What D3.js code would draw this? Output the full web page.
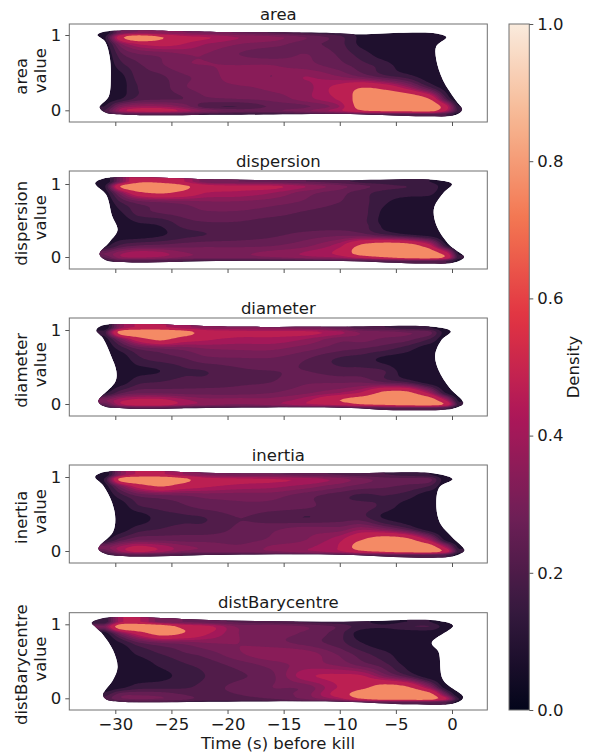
<!DOCTYPE html>
<html><head><meta charset="utf-8">
<style>html,body{margin:0;padding:0;background:#fff}svg{display:block}text{font-family:"DejaVu Sans",sans-serif;fill:#1a1a1a}</style>
<script src="https://cdn.jsdelivr.net/npm/d3@7/dist/d3.min.js"></script></head><body>
<svg id="c" width="594" height="756"></svg>
<script>
const panelNames=["area","dispersion","diameter","inertia","distBarycentre"];
const timeCols=[-31,-29.5,-28,-26,-24,-22,-19,-16,-13,-10,-8,-6,-4,-2,-0.5,0.6];
const valueRows=[1.03,.97,.88,.75,.6,.45,.3,.15,.05,-.01,-.05];
const xTicks=[-30,-25,-20,-15,-10,-5,0];
const yTicks=[0,1];
const cbTicks=[0,.2,.4,.6,.8,1];
const rocketStops=["#03051a","#35193e","#701f57","#ad1759","#e13342","#f37651","#f6b48f","#faebdd"];
const bandThresholds=[.12,.18,.23,.28,.33,.38,.44,.6];
const bandLevels=[.08,.155,.21,.26,.3,.345,.405,.47,.76];
const densityArea=[
[.05,.28,.33,.33,.33,.3,.27,.22,.17,.14,.1,.07,.07,.07,.05,.04],
[.1,.55,.75,.62,.48,.45,.38,.35,.28,.2,.1,.08,.07,.08,.06,.04],
[.07,.32,.44,.48,.44,.38,.33,.3,.25,.2,.1,.07,.07,.07,.05,.04],
[.05,.22,.28,.3,.33,.33,.28,.25,.28,.22,.15,.08,.07,.07,.05,.04],
[.05,.16,.22,.27,.32,.33,.33,.33,.3,.25,.2,.15,.07,.06,.05,.04],
[.05,.1,.2,.22,.27,.3,.36,.33,.38,.33,.27,.2,.15,.07,.05,.04],
[.05,.09,.18,.2,.27,.3,.32,.34,.36,.48,.6,.55,.4,.2,.08,.04],
[.06,.12,.2,.22,.23,.27,.28,.3,.36,.46,.7,.78,.78,.6,.2,.05],
[.12,.32,.38,.38,.32,.2,.18,.24,.27,.38,.7,.78,.78,.78,.48,.12],
[.18,.4,.48,.5,.42,.32,.26,.27,.32,.42,.57,.62,.64,.66,.42,.15],
[.15,.2,.2,.2,.2,.17,.15,.15,.17,.2,.22,.22,.22,.22,.18,.08]];
const densityDispersion=[
[.05,.3,.55,.55,.45,.3,.28,.26,.23,.2,.16,.15,.13,.12,.05,.04],
[.1,.62,.78,.78,.65,.5,.46,.46,.38,.3,.25,.2,.18,.17,.07,.04],
[.07,.33,.55,.62,.55,.44,.42,.38,.3,.25,.2,.16,.15,.14,.06,.04],
[.05,.18,.25,.28,.3,.32,.32,.3,.27,.23,.2,.13,.08,.07,.05,.04],
[.05,.11,.2,.23,.25,.27,.27,.25,.22,.2,.2,.1,.06,.06,.05,.04],
[.04,.07,.11,.13,.2,.22,.22,.2,.2,.2,.2,.1,.06,.06,.05,.04],
[.05,.07,.08,.11,.16,.18,.2,.22,.25,.27,.26,.2,.14,.09,.05,.04],
[.1,.2,.24,.25,.26,.27,.27,.28,.32,.42,.65,.75,.72,.5,.14,.05],
[.28,.37,.42,.4,.34,.32,.32,.35,.39,.47,.7,.78,.78,.72,.5,.1],
[.22,.36,.38,.36,.32,.3,.3,.32,.35,.38,.47,.57,.66,.7,.55,.14],
[.15,.2,.2,.19,.18,.17,.17,.17,.18,.2,.2,.22,.22,.22,.18,.08]];
const densityDiameter=[
[.05,.35,.45,.45,.4,.35,.34,.32,.3,.25,.2,.18,.15,.12,.05,.04],
[.15,.7,.78,.8,.7,.52,.48,.47,.47,.4,.32,.3,.28,.25,.08,.04],
[.08,.32,.52,.65,.52,.46,.42,.42,.38,.3,.3,.27,.25,.18,.06,.04],
[.06,.15,.24,.28,.3,.33,.34,.34,.3,.25,.23,.2,.15,.07,.05,.04],
[.05,.07,.16,.2,.22,.26,.27,.27,.23,.17,.15,.1,.07,.05,.05,.04],
[.05,.07,.1,.12,.17,.18,.22,.23,.23,.2,.2,.18,.07,.06,.05,.04],
[.05,.08,.16,.18,.2,.2,.22,.23,.27,.27,.27,.22,.17,.07,.05,.04],
[.1,.22,.27,.27,.26,.26,.26,.28,.32,.38,.46,.65,.65,.4,.11,.05],
[.32,.42,.47,.47,.4,.35,.35,.35,.42,.6,.72,.78,.78,.72,.42,.1],
[.22,.42,.5,.5,.4,.35,.32,.35,.42,.47,.58,.62,.68,.7,.55,.14],
[.15,.2,.22,.21,.18,.17,.17,.17,.18,.2,.22,.22,.22,.22,.18,.08]];
const densityInertia=[
[.05,.33,.45,.45,.38,.32,.3,.28,.25,.22,.2,.18,.16,.12,.05,.04],
[.12,.68,.78,.8,.66,.5,.46,.45,.42,.36,.3,.26,.25,.25,.07,.04],
[.08,.32,.5,.62,.52,.46,.42,.4,.36,.3,.26,.24,.22,.18,.06,.04],
[.06,.16,.24,.27,.28,.3,.3,.3,.25,.2,.17,.18,.15,.07,.05,.04],
[.05,.08,.17,.2,.22,.25,.27,.26,.24,.2,.2,.16,.08,.05,.05,.04],
[.05,.07,.08,.15,.17,.18,.23,.2,.18,.2,.2,.11,.07,.06,.05,.04],
[.05,.08,.15,.18,.2,.2,.24,.27,.3,.3,.36,.3,.2,.07,.05,.04],
[.1,.21,.27,.27,.26,.26,.26,.29,.33,.42,.6,.72,.66,.4,.09,.05],
[.3,.4,.47,.42,.35,.32,.29,.34,.37,.45,.72,.78,.78,.72,.4,.1],
[.22,.38,.46,.4,.32,.3,.3,.32,.36,.42,.55,.62,.68,.7,.52,.14],
[.15,.2,.21,.2,.18,.17,.17,.17,.18,.2,.22,.22,.22,.22,.18,.08]];
const densityDist=[
[.12,.42,.45,.3,.28,.25,.22,.2,.17,.15,.13,.1,.12,.12,.05,.04],
[.3,.75,.8,.76,.55,.48,.32,.32,.28,.22,.15,.13,.17,.18,.08,.04],
[.08,.32,.5,.68,.6,.46,.33,.3,.27,.2,.08,.07,.07,.07,.05,.04],
[.05,.12,.22,.28,.3,.33,.33,.3,.26,.2,.12,.07,.07,.06,.05,.04],
[.05,.07,.13,.18,.22,.25,.32,.37,.36,.27,.2,.14,.07,.05,.05,.04],
[.05,.06,.08,.13,.17,.2,.25,.3,.35,.32,.26,.2,.1,.05,.05,.04],
[.05,.06,.08,.1,.14,.18,.22,.27,.42,.46,.45,.32,.2,.07,.05,.04],
[.05,.1,.15,.16,.17,.2,.25,.28,.3,.45,.55,.68,.62,.35,.07,.04],
[.15,.26,.27,.26,.23,.21,.23,.26,.31,.5,.72,.78,.78,.68,.28,.06],
[.2,.27,.29,.28,.25,.21,.21,.23,.29,.4,.6,.7,.72,.7,.46,.12],
[.13,.17,.18,.18,.16,.15,.15,.15,.17,.2,.22,.22,.22,.22,.18,.08]];
const densityGrids=[densityArea,densityDispersion,densityDiameter,densityInertia,densityDist];
const outlineArea=[[-31.6,1],[-31.1,1.04],[-29,1.06],[-20,1.04],[-11.2,1.03],[-8.2,1.01],[-4.3,1.03],[-1.4,1.02],[-.5,.97],[-1.4,.85],[-1.4,.67],[-.8,.4],[.3,.14],[.9,.01],[.4,-.06],[-2.3,-.08],[-5.2,-.07],[-9.7,-.05],[-20,-.06],[-29,-.06],[-30.9,-.03],[-31.4,.04],[-30.6,.18],[-30.4,.45],[-30.5,.71],[-30.9,.91]];
const outlineDispersion=[[-31.8,1.01],[-31.2,1.07],[-28.1,1.09],[-20.1,1.06],[-9.7,1.05],[-1.4,1.055],[0,1],[-.8,.87],[-1.6,.67],[-1.4,.44],[-.2,.16],[1.07,0],[.4,-.07],[-2.3,-.09],[-9.7,-.055],[-20,-.055],[-29.6,-.07],[-30.9,-.04],[-31.4,.04],[-30.5,.21],[-29.8,.37],[-30.3,.57],[-30.8,.85]];
const outlineDiameter=[[-31.7,1],[-31.2,1.06],[-28.1,1.08],[-20,1.045],[-10.3,1.045],[-1.4,1.04],[-.1,.98],[-.9,.87],[-1.5,.66],[-1.2,.46],[-.2,.215],[1,.015],[.4,-.05],[-4.6,-.085],[-9.7,-.05],[-20,-.05],[-29,-.06],[-31,-.03],[-31.5,.035],[-30,.3],[-29.9,.44],[-30.4,.66],[-31.1,.89]];
const outlineInertia=[[-31.8,1],[-31.2,1.06],[-28.1,1.08],[-20,1.05],[-9.7,1.05],[-1.4,1.045],[.06,.97],[-1.1,.865],[-1.4,.66],[-1.1,.39],[0,.19],[1.1,.01],[.4,-.06],[-2.6,-.09],[-9.7,-.05],[-20,-.05],[-29,-.07],[-30.9,-.036],[-31.5,.03],[-30.2,.26],[-30,.44],[-30.3,.66],[-31.1,.89]];
const outlineDist=[[-32.1,1.02],[-31.2,1.08],[-20,1.05],[-9.7,1.035],[-1.1,1.045],[.1,.98],[-1.8,.75],[-1.2,.63],[-.8,.25],[1,.015],[.4,-.06],[-3.7,-.08],[-9.7,-.045],[-20,-.045],[-29.6,-.045],[-30.8,-.015],[-31.1,.045],[-30.2,.25],[-29.8,.42],[-30.2,.65],[-31.1,.86],[-31.8,.97]];
const outlines=[outlineArea,outlineDispersion,outlineDiameter,outlineInertia,outlineDist];
const frames=[[24,122,35,110.3],[171,269,184,257],[318,416,330,404],[465,563,477,551],[612.7,710,624.3,698.3]];
const L=69.3,R=487.3;
const x=d3.scaleLinear().domain([-30,0]).range([115.3,452]);
const rocket=d3.scaleLinear().domain(rocketStops.map((d,i)=>i/7)).range(rocketStops).interpolate(d3.interpolateRgb);
const svg=d3.select("#c");
const defs=svg.append("defs");
const ix=d3.scaleLinear().domain(timeCols).range(timeCols.map((d,i)=>i)).clamp(true);
const iy=d3.scaleLinear().domain(valueRows.slice().reverse()).range(valueRows.map((d,i)=>valueRows.length-1-i)).clamp(true);
function cr(p0,p1,p2,p3,t){return .5*(2*p1+(p2-p0)*t+(2*p0-5*p1+4*p2-p3)*t*t+(3*p1-p0-3*p2+p3)*t*t*t);}
function sample(g,u,w){
  const ny=g.length,nx=g[0].length,c=(a,n)=>Math.max(0,Math.min(n-1,a));
  const i=Math.min(nx-2,Math.floor(u)),j=Math.min(ny-2,Math.floor(w)),tu=u-i,tw=w-j,rows=[];
  for(let k=-1;k<=2;k++){const r=g[c(j+k,ny)];rows.push(cr(r[c(i-1,nx)],r[i],r[i+1],r[c(i+2,nx)],tu));}
  return cr(rows[0],rows[1],rows[2],rows[3],tw);
}
const STEP=1.5;
const styleAxis=a=>{a.select(".domain").remove();a.selectAll("line").attr("stroke","#555");a.selectAll("text").attr("font-size",16.5).attr("font-family","DejaVu Sans").attr("fill","#1a1a1a");};
panelNames.forEach((name,p)=>{
  const [top,bot,y1,y0]=frames[p];
  const y=d3.scaleLinear().domain([0,1]).range([y0,y1]);
  const g=svg.append("g");
  const id="clip"+p;
  const line=d3.line(d=>x(d[0]),d=>y(d[1])).curve(d3.curveCatmullRomClosed.alpha(.5));
  defs.append("clipPath").attr("id",id).append("path").attr("d",line(outlines[p]));
  const nw=Math.ceil((R-L)/STEP)+1,nh=Math.ceil((bot-top)/STEP)+1,vals=new Float64Array(nw*nh);
  for(let j=0;j<nh;j++)for(let i=0;i<nw;i++){
    const t=x.invert(L+i*STEP),v=y.invert(top+j*STEP);
    vals[j*nw+i]=sample(densityGrids[p],ix(t),iy(v));
  }
  const inner=g.append("g").attr("clip-path",`url(#${id})`);
  inner.append("path").attr("d",line(outlines[p])).attr("fill",rocket(bandLevels[0]));
  const contours=d3.contours().size([nw,nh]).thresholds(bandThresholds)(Array.from(vals));
  const gp=d3.geoPath();
  inner.selectAll("path.band").data(contours).join("path").attr("class","band")
    .attr("transform",`translate(${L-STEP/2},${top-STEP/2}) scale(${STEP})`)
    .attr("d",gp).attr("fill",(d,i)=>rocket(bandLevels[i+1]));
  g.append("rect").attr("x",L).attr("y",top).attr("width",R-L).attr("height",bot-top).attr("fill","none").attr("stroke","#707070").attr("stroke-width",1);
  const ax=d3.axisBottom(x).tickValues(xTicks).tickSize(4).tickPadding(4).tickFormat(p===4?(d=>d<0?"\u2212"+(-d):d):"");
  styleAxis(g.append("g").attr("transform",`translate(0,${bot})`).call(ax));
  const ay=d3.axisLeft(y).tickValues(yTicks).tickSize(4).tickPadding(4).tickFormat(d3.format("d"));
  styleAxis(g.append("g").attr("transform",`translate(${L},0)`).call(ay));
  g.append("text").attr("x",(L+R)/2).attr("y",top-4.5).attr("text-anchor","middle").attr("font-size",16.5).text(name);
  const cy=(top+bot)/2;
  g.append("text").attr("transform",`translate(27,${cy+3.3}) rotate(-90)`).attr("text-anchor","middle").attr("font-size",16.5).text(name);
  g.append("text").attr("transform",`translate(45.5,${cy-2.3}) rotate(-90)`).attr("text-anchor","middle").attr("font-size",16.5).text("value");
});
svg.append("text").attr("x",278).attr("y",749).attr("text-anchor","middle").attr("font-size",16.5).text("Time (s) before kill");
const cb=d3.scaleLinear().domain([0,1]).range([710,24]);
const grad=defs.append("linearGradient").attr("id","cbg").attr("x1",0).attr("x2",0).attr("y1",1).attr("y2",0);
d3.range(0,1.0001,.02).forEach(d=>grad.append("stop").attr("offset",d).attr("stop-color",rocket(d)));
svg.append("rect").attr("x",509).attr("y",24).attr("width",20.3).attr("height",686).attr("fill","url(#cbg)").attr("stroke","#707070").attr("stroke-width",1);
styleAxis(svg.append("g").attr("transform","translate(529.3,0)").call(d3.axisRight(cb).tickValues(cbTicks).tickSize(4).tickPadding(4).tickFormat(d3.format(".1f"))));
svg.append("text").attr("transform","translate(579,367) rotate(-90)").attr("text-anchor","middle").attr("font-size",16.5).text("Density");
</script></body></html>
